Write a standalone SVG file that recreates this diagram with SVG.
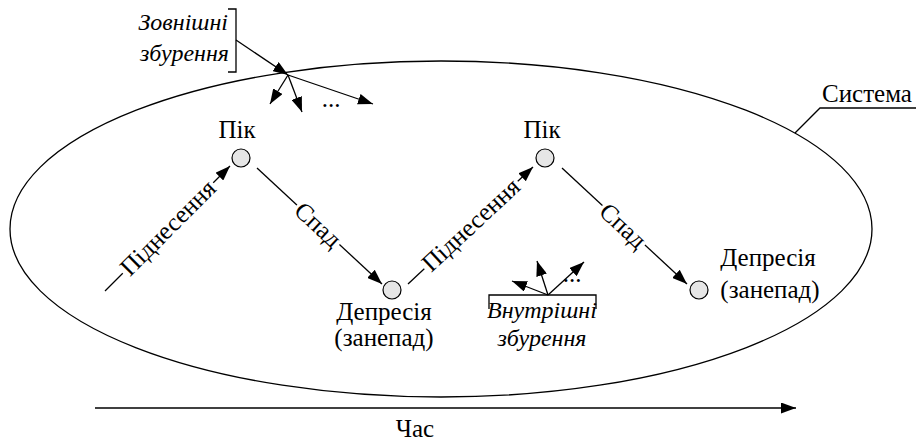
<svg xmlns="http://www.w3.org/2000/svg" width="916" height="441" viewBox="0 0 916 441">
  <style>
    text { font-family: 'Liberation Serif', 'Times New Roman', serif; font-size: 25px; fill: #000; }
    .i { font-style: italic; font-size: 24px; }
    .ln { stroke: #000; stroke-width: 1.3; fill: none; }
    .nd { fill: #e6e6e6; stroke: #000; stroke-width: 1.2; }
    .bg { fill: #fff; stroke: none; }
  </style>
  <defs>
    <marker id="ah" markerWidth="15" markerHeight="11" refX="15" refY="5.5" orient="auto" markerUnits="userSpaceOnUse">
      <path d="M0,0 L15,5.5 L0,11 z" fill="#000"/>
    </marker>
  </defs>
  <rect width="916" height="441" fill="#fff"/>

  <g id="system">
    <ellipse cx="441" cy="229" rx="431" ry="168" class="ln"/>
    <path d="M795,133 L820,108 L916,108" class="ln"/>
    <text x="822" y="102">Система</text>
  </g>

  <g id="external">
    <text class="i" x="228" y="30" text-anchor="end">Зовнішні</text>
    <text class="i" x="229" y="61" text-anchor="end">збурення</text>
    <path d="M228,9 L236,9 L236,72 L228,72" class="ln"/>
  </g>

  <g id="internal">
    <path d="M489,309 L489,295 L596,295 L596,309" class="ln"/>
    <text class="i" x="542" y="318" text-anchor="middle">Внутрішні</text>
    <text class="i" x="542" y="346" text-anchor="middle">збурення</text>
  </g>

  <g id="peak1">
    <circle cx="241" cy="158" r="9" class="nd"/>
    <text x="237" y="138" text-anchor="middle">Пік</text>
  </g>
  <g id="dep1">
    <circle cx="392" cy="290" r="9" class="nd"/>
    <text x="384" y="320" text-anchor="middle">Депресія</text>
    <text x="384" y="346" text-anchor="middle">(занепад)</text>
  </g>
  <g id="peak2">
    <circle cx="545" cy="158" r="9" class="nd"/>
    <text x="542" y="138" text-anchor="middle">Пік</text>
  </g>
  <g id="dep2">
    <circle cx="699" cy="290" r="9" class="nd"/>
    <text x="768" y="266" text-anchor="middle">Депресія</text>
    <text x="770" y="298" text-anchor="middle">(занепад)</text>
  </g>

  <g id="connectors">
    <line x1="105" y1="291" x2="230" y2="166" class="ln" marker-end="url(#ah)"/>
    <line x1="257" y1="168" x2="382" y2="284" class="ln" marker-end="url(#ah)"/>
    <line x1="408" y1="284" x2="533" y2="167" class="ln" marker-end="url(#ah)"/>
    <line x1="562" y1="168" x2="687" y2="284" class="ln" marker-end="url(#ah)"/>

    <line x1="236" y1="40" x2="288" y2="75" class="ln" marker-end="url(#ah)"/>
    <line x1="288" y1="75" x2="270" y2="104" class="ln" marker-end="url(#ah)"/>
    <line x1="288" y1="75" x2="302" y2="112" class="ln" marker-end="url(#ah)"/>
    <line x1="288" y1="75" x2="373" y2="104" class="ln" marker-end="url(#ah)"/>
    <text x="331" y="107" text-anchor="middle">...</text>

    <line x1="548" y1="295" x2="512" y2="281" class="ln" marker-end="url(#ah)"/>
    <line x1="548" y1="295" x2="537" y2="261" class="ln" marker-end="url(#ah)"/>
    <line x1="548" y1="295" x2="584" y2="262" class="ln" marker-end="url(#ah)"/>
    <text x="572" y="282" text-anchor="middle">...</text>

    <g transform="translate(168,228) rotate(-45)">
      <rect x="-64" y="-12" width="128" height="24" class="bg"/>
      <text x="0" y="8" text-anchor="middle">Піднесення</text>
    </g>
    <g transform="translate(318,225) rotate(43)">
      <rect x="-29" y="-12" width="58" height="24" class="bg"/>
      <text x="0" y="8" text-anchor="middle">Спад</text>
    </g>
    <g transform="translate(471,225) rotate(-43)">
      <rect x="-64" y="-12" width="128" height="24" class="bg"/>
      <text x="0" y="8" text-anchor="middle">Піднесення</text>
    </g>
    <g transform="translate(623,226) rotate(43)">
      <rect x="-29" y="-12" width="58" height="24" class="bg"/>
      <text x="0" y="8" text-anchor="middle">Спад</text>
    </g>
  </g>

  <g id="time">
    <line x1="95" y1="408" x2="796" y2="408" class="ln" marker-end="url(#ah)"/>
    <text x="415" y="437" text-anchor="middle">Час</text>
  </g>
</svg>
